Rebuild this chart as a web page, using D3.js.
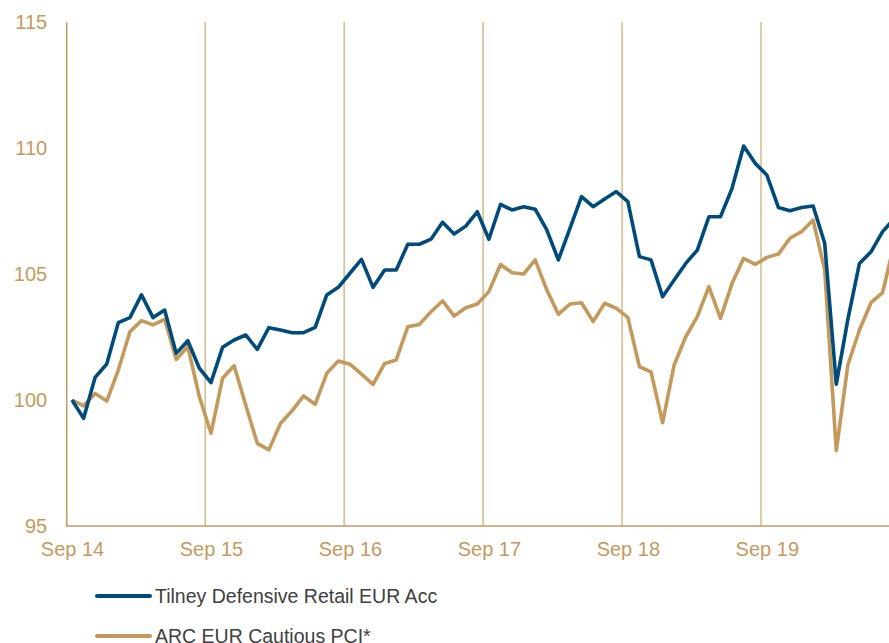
<!DOCTYPE html>
<html>
<head>
<meta charset="utf-8">
<script src="https://cdn.jsdelivr.net/npm/d3@7"></script>
<style>
  body { margin: 0; background: #fff; }
  text { font-family: "Liberation Sans", Arial, sans-serif; }
</style>
</head>
<body>
<div id="chart"></div>
<script>
// monthly index, Sep 14 -> Aug 20 (rebased to 100)
var tickLabels = ["Sep 14", "Sep 15", "Sep 16", "Sep 17", "Sep 18", "Sep 19"];
var tickIndex = [0, 12, 24, 36, 48, 60];
var yTicks = [95, 100, 105, 110, 115];
var seriesNames = ["Tilney Defensive Retail EUR Acc", "ARC EUR Cautious PCI*"];

var tilney = [100.0, 99.27, 100.9, 101.43, 103.07, 103.27, 104.17, 103.27, 103.57, 101.85, 102.35, 101.26,
  100.69, 102.09, 102.38, 102.58, 102.01, 102.87, 102.78, 102.67, 102.67, 102.88, 104.17, 104.47,
  105.03, 105.58, 104.47, 105.16, 105.16, 106.18, 106.18, 106.38, 107.05, 106.59, 106.9, 107.47,
  106.38, 107.76, 107.54, 107.67, 107.57, 106.75, 105.56, 106.81, 108.07, 107.67, 107.98, 108.27,
  107.87, 105.69, 105.56, 104.1, 104.76, 105.42, 105.95, 107.27, 107.27, 108.4, 110.08, 109.39,
  108.93, 107.64, 107.51, 107.64, 107.7, 106.22, 100.63, 103.2, 105.42, 105.88, 106.68, 107.2];

var arc = [100.0, 99.77, 100.26, 99.96, 101.19, 102.71, 103.15, 102.98, 103.2, 101.61, 102.12, 100.13,
  98.68, 100.86, 101.36, 99.8, 98.28, 98.02, 99.07, 99.57, 100.16, 99.83, 101.06, 101.55,
  101.42, 101.03, 100.62, 101.45, 101.59, 102.91, 103.0, 103.5, 103.93, 103.33, 103.66, 103.81,
  104.3, 105.38, 105.05, 105.0, 105.56, 104.37, 103.4, 103.81, 103.86, 103.11, 103.84, 103.64,
  103.28, 101.32, 101.12, 99.1, 101.39, 102.51, 103.31, 104.5, 103.24, 104.63, 105.62, 105.38,
  105.66, 105.79, 106.42, 106.68, 107.14, 105.16, 97.99, 101.39, 102.78, 103.86, 104.26, 106.2];

var blue = "#004b7a",
    gold = "#c49a5c",
    grid = "#cfae79";

var width = 889, height = 643;

var svg = d3.select("#chart")
  .append("svg")
    .attr("width", width)
    .attr("height", height);

// scales : one point per month, year lines sit between Aug and Sep
var x = d3.scaleLinear()
    .domain([0, 71])
    .range([72, 72 + 71 * 11.58]);

var y = d3.scaleLinear()
    .domain([95, 115])
    .range([526, 22]);

// vertical year lines
svg.append("g")
  .selectAll("line")
  .data(tickIndex.slice(1))
  .enter()
  .append("line")
    .attr("x1", function(d) { return x(d - 0.5); })
    .attr("x2", function(d) { return x(d - 0.5); })
    .attr("y1", y(115))
    .attr("y2", y(95))
    .attr("stroke", grid)
    .attr("stroke-width", 1.3);

// Y axis
var yAxis = svg.append("g")
    .attr("transform", "translate(" + x(-0.5) + ",0)")
    .call(d3.axisLeft(y).tickValues(yTicks).tickSize(0).tickPadding(19));
yAxis.select(".domain").attr("stroke", gold).attr("stroke-width", 1.5);
yAxis.selectAll("text")
    .attr("fill", gold)
    .style("font-size", "20px");

// X axis
var xAxis = svg.append("g")
    .attr("transform", "translate(0," + y(95) + ")")
    .call(d3.axisBottom(x)
      .tickValues(tickIndex)
      .tickFormat(function(d, i) { return tickLabels[i]; })
      .tickSize(0)
      .tickPadding(16));
xAxis.select(".domain").remove();
xAxis.selectAll("text")
    .attr("fill", gold)
    .style("font-size", "20px");

svg.append("line")
    .attr("x1", x(-0.5))
    .attr("x2", width)
    .attr("y1", y(95))
    .attr("y2", y(95))
    .attr("stroke", gold)
    .attr("stroke-width", 1.5);

// lines
var line = d3.line()
    .x(function(d, i) { return x(i); })
    .y(function(d) { return y(d); });

var series = [
  { name: seriesNames[0], values: tilney, color: blue },
  { name: seriesNames[1], values: arc, color: gold }
];

// gold drawn first so the blue sits on top
svg.selectAll(".serie")
  .data(series.slice().reverse())
  .enter()
  .append("path")
    .attr("class", "serie")
    .attr("d", function(d) { return line(d.values); })
    .attr("fill", "none")
    .attr("stroke", function(d) { return d.color; })
    .attr("stroke-width", 3.6)
    .attr("stroke-linejoin", "round");

// legend
var legend = svg.selectAll(".legend")
  .data(series)
  .enter()
  .append("g")
    .attr("class", "legend")
    .attr("transform", function(d, i) { return "translate(97," + (596 + i * 40) + ")"; });

legend.append("line")
    .attr("x1", 0)
    .attr("x2", 53)
    .attr("stroke", function(d) { return d.color; })
    .attr("stroke-width", 4)
    .attr("stroke-linecap", "round");

legend.append("text")
    .attr("x", 58)
    .attr("dy", "0.35em")
    .attr("fill", "#404040")
    .style("font-size", "19.5px")
    .text(function(d) { return d.name; });
</script>
</body>
</html>
